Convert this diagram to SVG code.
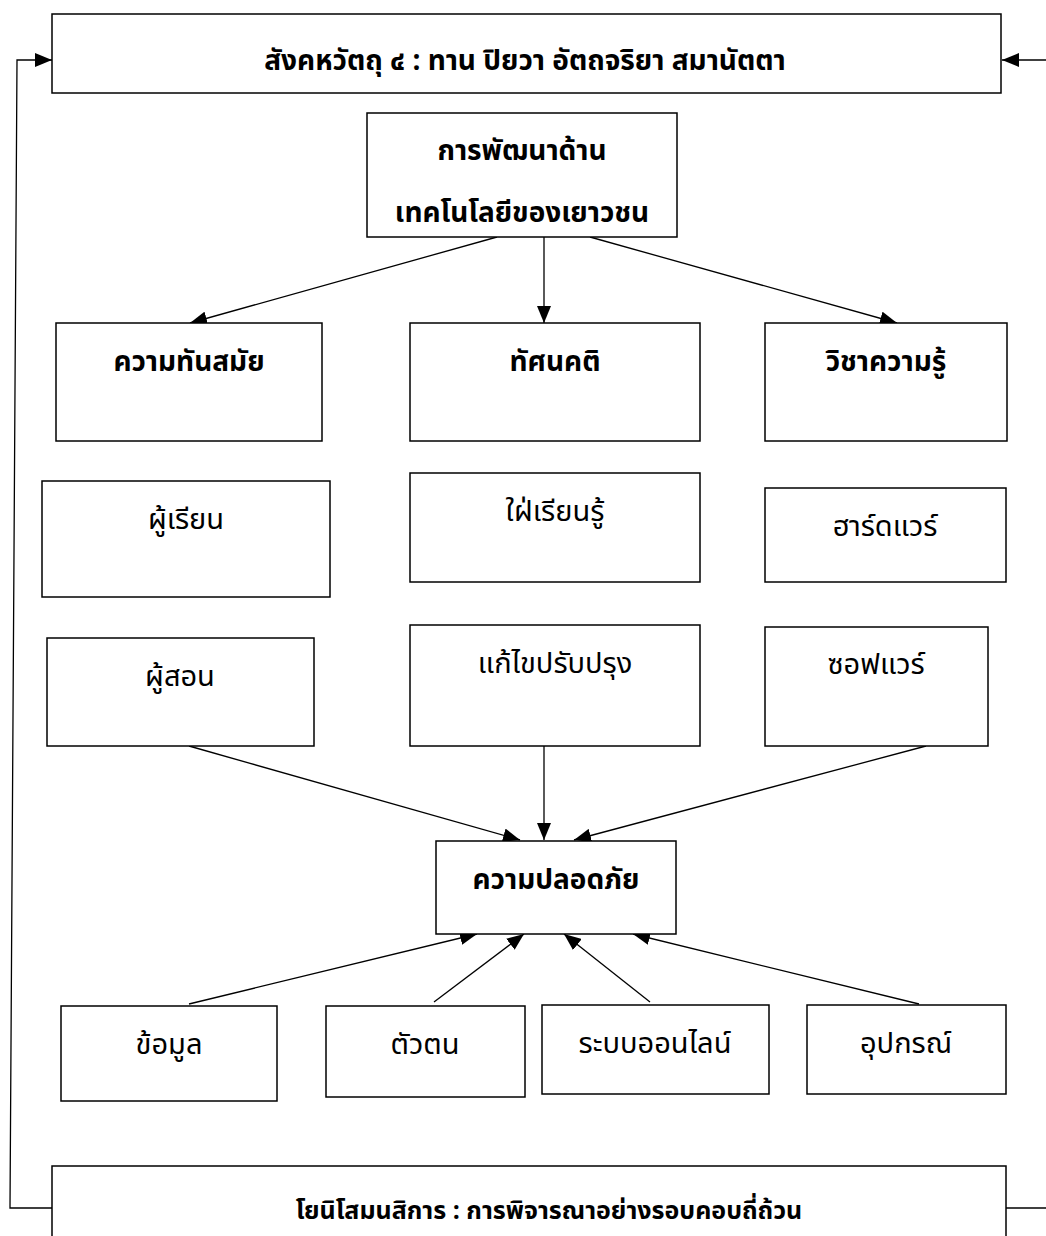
<svg xmlns="http://www.w3.org/2000/svg" width="1046" height="1236" viewBox="0 0 1046 1236">
<style>
.box{fill:#fff;stroke:#000;stroke-width:1.5}
.t{font-family:"Noto Sans Thai","Noto Sans","DejaVu Sans",sans-serif;fill:#000;text-anchor:middle}
.b{font-weight:bold;font-size:28px}
.n{font-weight:normal;font-size:29px}
.c{fill:none;stroke:#000;stroke-width:1.3}
</style>
<defs>
<marker id="ah" markerUnits="userSpaceOnUse" markerWidth="18" markerHeight="14" refX="17" refY="7" orient="auto">
<path d="M0,0 L17,7 L0,14 z" fill="#000"/>
</marker>
</defs>
<rect width="1046" height="1236" fill="#fff"/>
<g id="connectors">
<line class="c" x1="497" y1="237" x2="190" y2="323" marker-end="url(#ah)"/>
<line class="c" x1="544" y1="237" x2="544" y2="323" marker-end="url(#ah)"/>
<line class="c" x1="590" y1="237" x2="897" y2="323" marker-end="url(#ah)"/>
<line class="c" x1="189" y1="746" x2="520" y2="840" marker-end="url(#ah)"/>
<line class="c" x1="544" y1="746" x2="544" y2="840" marker-end="url(#ah)"/>
<line class="c" x1="926" y1="746" x2="574" y2="840" marker-end="url(#ah)"/>
<line class="c" x1="189" y1="1004" x2="477" y2="934" marker-end="url(#ah)"/>
<line class="c" x1="434" y1="1002" x2="524" y2="934" marker-end="url(#ah)"/>
<line class="c" x1="650" y1="1002" x2="564" y2="934" marker-end="url(#ah)"/>
<line class="c" x1="919" y1="1004" x2="633" y2="934" marker-end="url(#ah)"/>
<polyline class="c" stroke-width="2" points="52,1208 10,1208 17,60 52,60" marker-end="url(#ah)"/>
<line class="c" stroke-width="2" x1="1046" y1="60" x2="1002" y2="60" marker-end="url(#ah)"/>
<line class="c" stroke-width="2" x1="1006" y1="1208" x2="1046" y2="1208"/>
</g>
<g id="n-top"><rect class="box" x="52" y="14" width="949" height="79"/><text class="t b" x="525" y="70">สังคหวัตถุ ๔ : ทาน ปิยวา อัตถจริยา สมานัตตา</text></g>
<g id="n-dev"><rect class="box" x="367" y="113" width="310" height="124"/><text class="t b" x="522" y="160">การพัฒนาด้าน</text><text class="t b" x="522" y="222">เทคโนโลยีของเยาวชน</text></g>
<g id="n-modern"><rect class="box" x="56" y="323" width="266" height="118"/><text class="t b" x="189" y="371">ความทันสมัย</text></g>
<g id="n-attitude"><rect class="box" x="410" y="323" width="290" height="118"/><text class="t b" x="555" y="371">ทัศนคติ</text></g>
<g id="n-knowledge"><rect class="box" x="765" y="323" width="242" height="118"/><text class="t b" x="886" y="371">วิชาความรู้</text></g>
<g id="n-learner"><rect class="box" x="42" y="481" width="288" height="116"/><text class="t n" x="186" y="529">ผู้เรียน</text></g>
<g id="n-eager"><rect class="box" x="410" y="473" width="290" height="109"/><text class="t n" x="555" y="521">ใฝ่เรียนรู้</text></g>
<g id="n-hardware"><rect class="box" x="765" y="488" width="241" height="94"/><text class="t n" x="885" y="536">ฮาร์ดแวร์</text></g>
<g id="n-teacher"><rect class="box" x="47" y="638" width="267" height="108"/><text class="t n" x="180" y="686">ผู้สอน</text></g>
<g id="n-improve"><rect class="box" x="410" y="625" width="290" height="121"/><text class="t n" x="555" y="673">แก้ไขปรับปรุง</text></g>
<g id="n-software"><rect class="box" x="765" y="627" width="223" height="119"/><text class="t n" x="876" y="674">ซอฟแวร์</text></g>
<g id="n-safety"><rect class="box" x="436" y="841" width="240" height="93"/><text class="t b" x="556" y="889">ความปลอดภัย</text></g>
<g id="n-data"><rect class="box" x="61" y="1006" width="216" height="95"/><text class="t n" x="169" y="1054">ข้อมูล</text></g>
<g id="n-identity"><rect class="box" x="326" y="1006" width="199" height="91"/><text class="t n" x="425" y="1054">ตัวตน</text></g>
<g id="n-online"><rect class="box" x="542" y="1005" width="227" height="89"/><text class="t n" x="655" y="1053">ระบบออนไลน์</text></g>
<g id="n-device"><rect class="box" x="807" y="1005" width="199" height="89"/><text class="t n" x="906" y="1053">อุปกรณ์</text></g>
<g id="n-bottom"><rect class="box" x="52" y="1166" width="954" height="80"/><text class="t b" style="font-size:25px" x="549" y="1219">โยนิโสมนสิการ : การพิจารณาอย่างรอบคอบถี่ถ้วน</text></g>
</svg>
